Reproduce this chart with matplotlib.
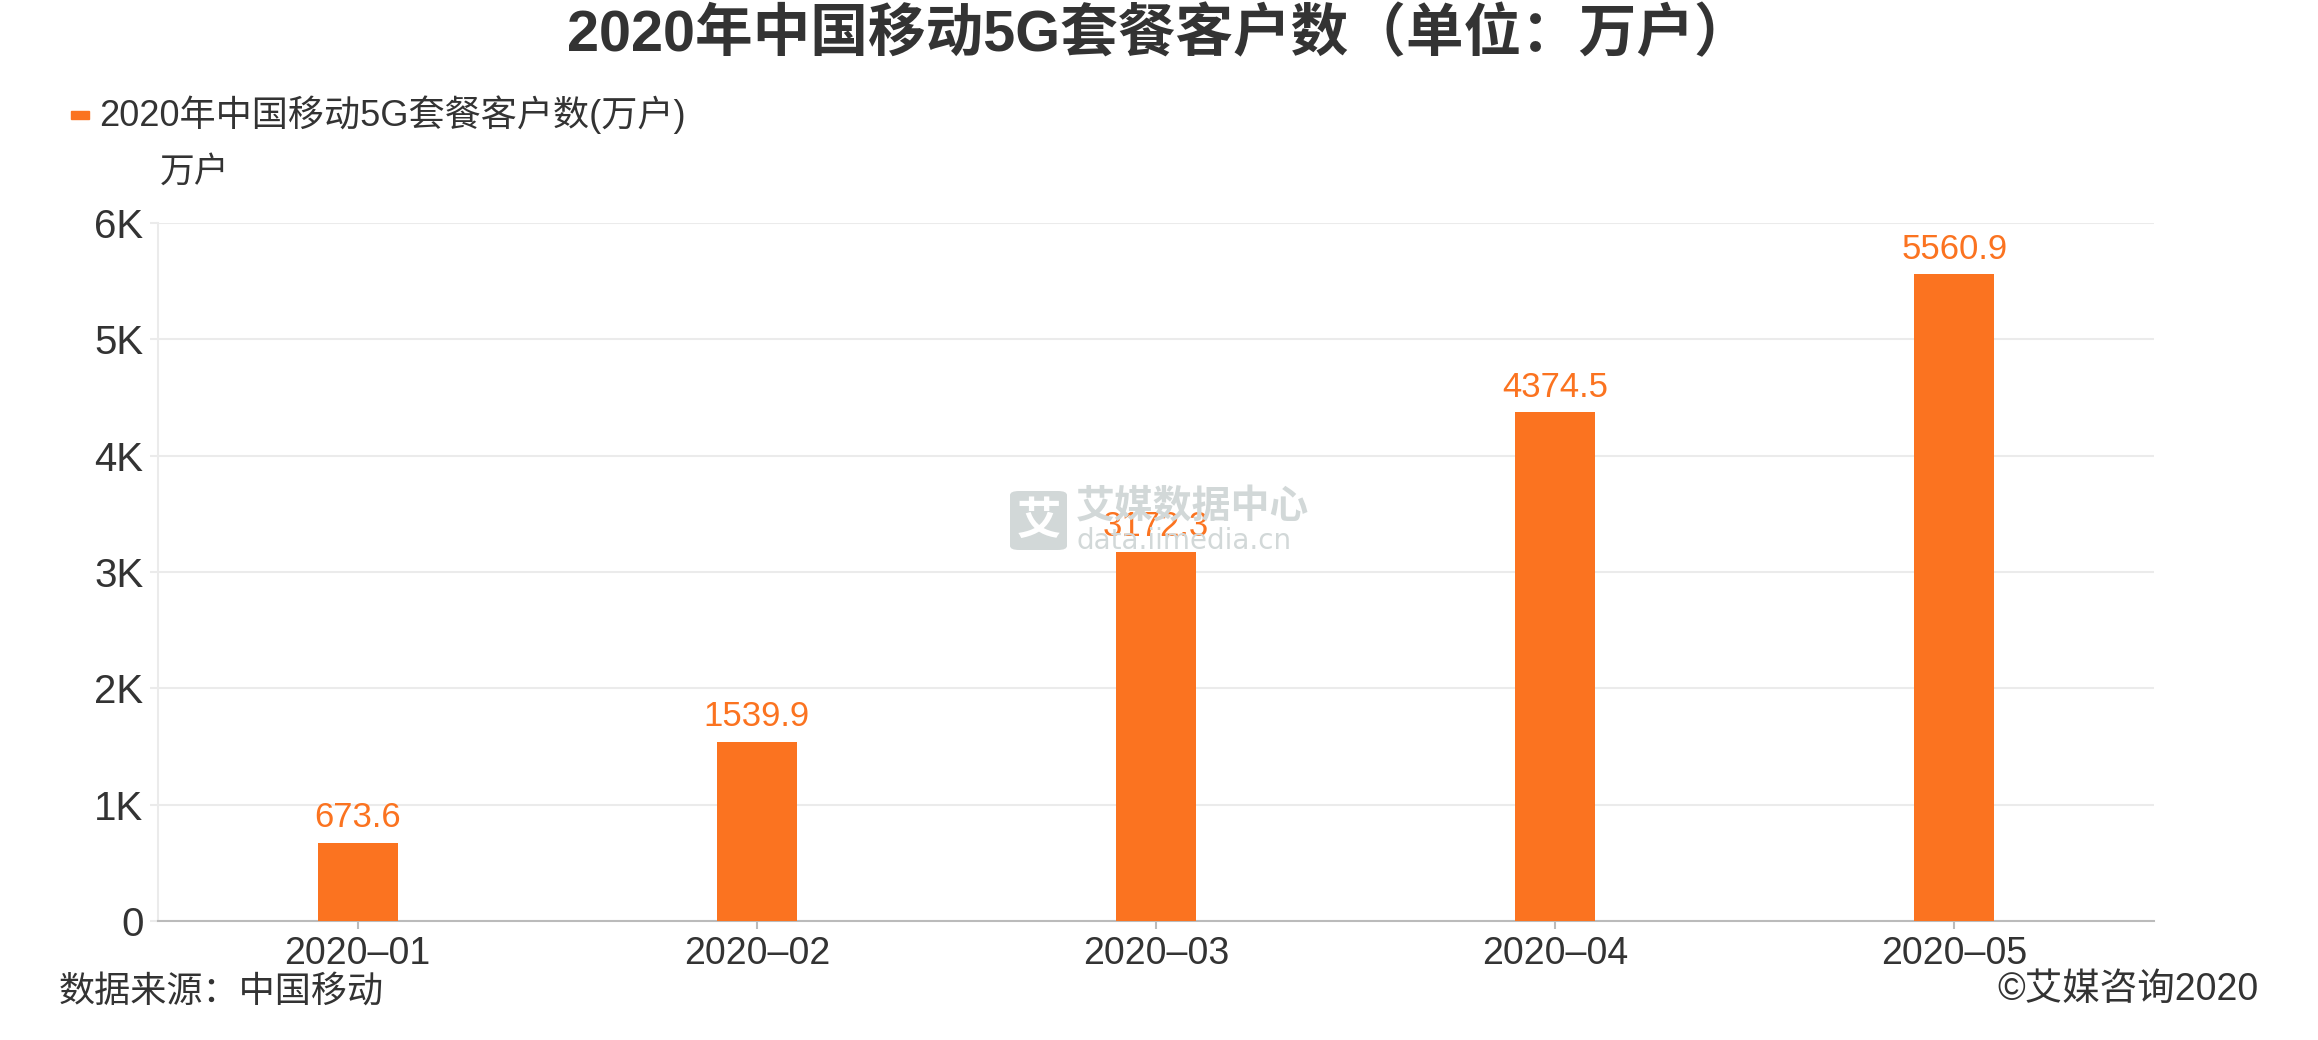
import matplotlib
matplotlib.use('Agg')
import matplotlib.pyplot as plt
from matplotlib.patches import FancyBboxPatch
from matplotlib.ticker import FuncFormatter

plt.rcParams['font.family'] = ['Liberation Sans', 'Noto Sans CJK SC', 'DejaVu Sans']

# data
months = ['2020–01', '2020–02', '2020–03', '2020–04', '2020–05']
users = [673.6, 1539.9, 3172.3, 4374.5, 5560.9]
yticks = [0, 1000, 2000, 3000, 4000, 5000, 6000]

title = '2020年中国移动5G套餐客户数（单位：万户）'
series_name = '2020年中国移动5G套餐客户数(万户)'
unit = '万户'
source = '数据来源：中国移动'
copyright_txt = '©艾媒咨询2020'

orange = '#fb7320'
dark = '#333333'
wm = '#d2d8d8'

fig = plt.figure(figsize=(23.18, 10.40), dpi=100)
ax = fig.add_axes([0.0682, 0.1144, 0.8610, 0.6712])

x = list(range(len(months)))
ax.bar(x, users, width=0.2, color=orange, zorder=3)
for xi, v in zip(x, users):
    ax.annotate(f'{v:.1f}', (xi, v), xytext=(0, 18), textcoords='offset points',
                ha='center', va='center', fontsize=25, color=orange, zorder=5)

ax.set_xlim(-0.5, len(months) - 0.5)
ax.set_ylim(0, 6000)
ax.set_xticks(x)
ax.set_xticklabels(months)
ax.set_yticks(yticks)
ax.yaxis.set_major_formatter(FuncFormatter(lambda v, p: '0' if v == 0 else f'{int(v/1000)}K'))

ax.grid(axis='y', color='#ebebeb', linewidth=1.5, zorder=0)
ax.set_axisbelow(True)
for s in ['top', 'right']:
    ax.spines[s].set_visible(False)
ax.spines['left'].set_color('#ebebeb')
ax.spines['left'].set_linewidth(1.5)
ax.spines['bottom'].set_color('#bbbbbb')
ax.spines['bottom'].set_linewidth(1.5)
ax.tick_params(axis='x', length=6, width=1.5, color='#bbbbbb', pad=5,
               labelsize=27, labelcolor=dark)
ax.tick_params(axis='y', length=6, width=1.5, color='#ebebeb', pad=4.5,
               labelsize=29, labelcolor=dark)

# titles and labels
fig.text(0.5, 0.966, title, ha='center', va='center', fontsize=41.5,
         fontweight='bold', color=dark)
fig.patches.append(plt.Rectangle((0.0307, 0.886), 0.0078, 0.0075,
                                 transform=fig.transFigure, color=orange))
fig.text(0.0427, 0.890, series_name, ha='left', va='center', fontsize=26, color=dark)
fig.text(0.069, 0.834, unit, ha='left', va='center', fontsize=25, color=dark)
fig.text(0.0255, 0.046, source, ha='left', va='center', fontsize=26, color=dark)
fig.text(0.9745, 0.048, copyright_txt, ha='right', va='center', fontsize=27, color=dark)

# watermark
icon = FancyBboxPatch((1010 / 2318, 1 - 550 / 1040), 57 / 2318, 59 / 1040,
                      boxstyle='round,pad=0,rounding_size=0.004',
                      transform=fig.transFigure, facecolor=wm, edgecolor='none', zorder=1)
fig.patches.append(icon)
fig.text(1038.5 / 2318, 1 - 521 / 1040, '艾', ha='center', va='center', fontsize=32,
         fontweight='bold', color='white', family=['Noto Sans CJK SC'])
fig.text(1076 / 2318, 1 - 507 / 1040, '艾媒数据中心', ha='left', va='center', fontsize=28,
         fontweight='bold', color=wm, family=['Noto Sans CJK SC'])
fig.text(1076 / 2318, 1 - 541 / 1040, 'data.iimedia.cn', ha='left', va='center', fontsize=20,
         color=wm, family=['DejaVu Sans'])

fig.savefig('out.png', dpi=100)
